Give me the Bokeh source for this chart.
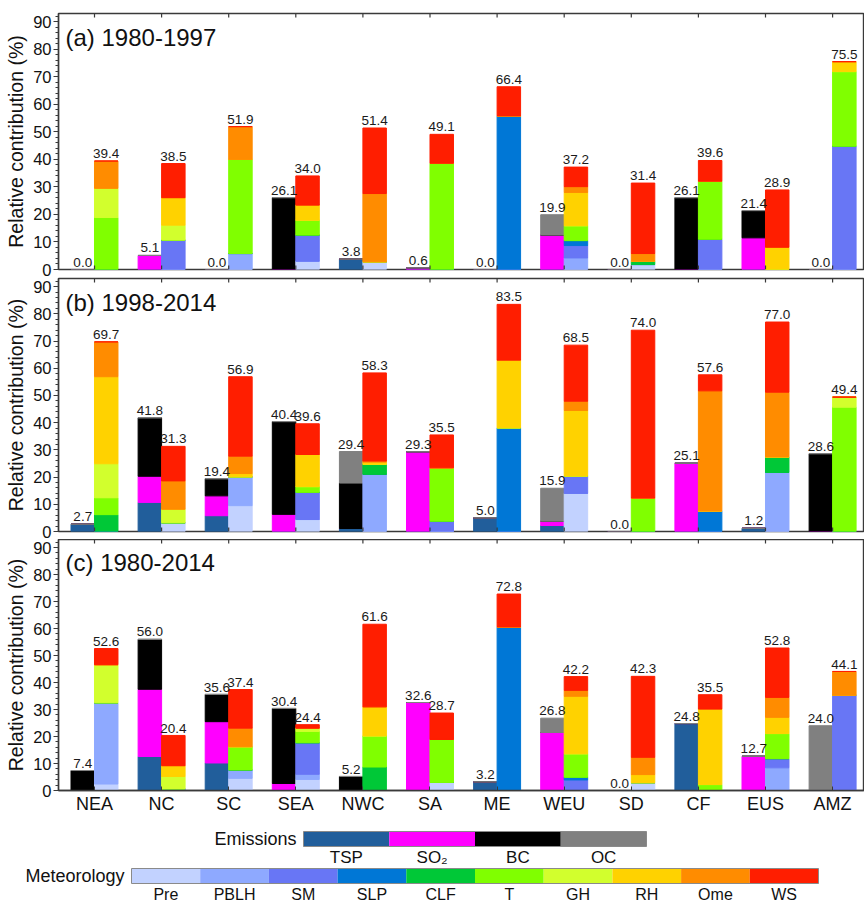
from bokeh.plotting import figure
from bokeh.models import ColumnDataSource, Range1d, FixedTicker, Label
from bokeh.layouts import column
from bokeh.core.properties import value
from bokeh.embed import file_html
from bokeh.resources import INLINE

FONT = "Liberation Sans"

regions = ["NEA", "NC", "SC", "SEA", "NWC", "SA", "ME", "WEU", "SD", "CF", "EUS", "AMZ"]
emis_names = ["TSP", "SO2", "BC", "OC"]
emis_labels = ["TSP", "SO\u2082", "BC", "OC"]
emis_colors = ["#215e9b", "#ff00ff", "#000000", "#808080"]
met_names = ["Pre", "PBLH", "SM", "SLP", "CLF", "T", "GH", "RH", "Ome", "WS"]
met_colors = ["#c2d2ff", "#8ea9ff", "#6876f5", "#0077d6", "#00c837",
              "#80ff00", "#d2ff2d", "#ffd200", "#ff8c00", "#ff1e00"]
titles = ["(a) 1980-1997", "(b) 1998-2014", "(c) 1980-2014"]

# ---- (a) 1980-1997 : emissions ----
TSP_a = [0, 0, 0, 0, 3.8, 0, 0, 0, 0, 0, 0, 0]
SO2_a = [0, 5.1, 0, 0, 0, 0.6, 0, 12.5, 0, 0, 11.5, 0]
BC_a = [0, 0, 0, 26.1, 0, 0, 0, 0, 0, 26.1, 9.9, 0]
OC_a = [0, 0, 0, 0, 0, 0, 0, 7.4, 0, 0, 0, 0]
# ---- (a) 1980-1997 : meteorology ----
Pre_a = [0, 0, 0, 3.0, 2.8, 0, 0, 0, 1.8, 0, 0, 0]
PBLH_a = [0, 0, 5.8, 0, 0, 0, 0, 4.2, 0, 0, 0, 0]
SM_a = [0, 10.7, 0, 9.5, 0, 0, 0, 4.5, 0, 11.0, 0, 44.8]
SLP_a = [0, 0, 0, 0, 0, 0, 55.8, 1.8, 0, 0, 0, 0]
CLF_a = [0, 0, 0, 0, 0, 0, 0, 0, 1.2, 0, 0, 0]
T_a = [18.9, 0, 34.2, 5.4, 0, 38.6, 0, 5.4, 0, 21.1, 0, 27.1]
GH_a = [10.6, 5.4, 0, 0, 0, 0, 0, 0, 0, 0, 0, 0]
RH_a = [0, 10.0, 0, 5.5, 0, 0, 0, 12.1, 0, 0, 8.1, 3.6]
Ome_a = [9.9, 0, 11.9, 0, 24.8, 0, 0, 2.1, 2.8, 0, 0, 0]
WS_a = [0, 12.4, 0, 10.6, 23.8, 10.5, 10.6, 7.1, 25.6, 7.5, 20.8, 0]

# ---- (b) 1998-2014 : emissions ----
TSP_b = [2.7, 10.7, 5.8, 0, 1.1, 0, 5.0, 2.2, 0, 0, 1.2, 0]
SO2_b = [0, 9.6, 7.3, 6.3, 0, 29.3, 0, 1.6, 0, 25.1, 0, 0]
BC_b = [0, 21.5, 6.3, 34.1, 16.7, 0, 0, 0, 0, 0, 0, 28.6]
OC_b = [0, 0, 0, 0, 11.6, 0, 0, 12.1, 0, 0, 0, 0]
# ---- (b) 1998-2014 : meteorology ----
Pre_b = [0, 3.2, 9.5, 4.4, 0, 0, 0, 14.0, 0, 0, 0, 0]
PBLH_b = [0, 0, 10.6, 0, 21.0, 0, 0, 0, 0, 0, 21.7, 0]
SM_b = [0, 0, 0, 10.0, 0, 3.8, 0, 6.4, 0, 0, 0, 0]
SLP_b = [0, 0, 0, 0, 0, 0, 38.1, 0, 0, 7.5, 0, 0]
CLF_b = [6.2, 0, 0, 0, 3.7, 0, 0, 0, 0, 0, 5.7, 0]
T_b = [6.2, 0, 0, 2.1, 0, 19.6, 0, 0, 12.3, 0, 0, 45.7]
GH_b = [12.5, 5.0, 0, 0, 0, 0, 0, 0, 0, 0, 0, 3.7]
RH_b = [32.0, 0, 1.2, 11.8, 0.8, 0, 24.9, 24.1, 0, 0, 0, 0]
Ome_b = [12.8, 10.4, 6.4, 0, 0.4, 0, 0, 3.4, 0, 44.2, 23.8, 0]
WS_b = [0, 12.7, 29.2, 11.3, 32.4, 12.1, 20.5, 20.6, 61.7, 5.9, 25.8, 0]

# ---- (c) 1980-2014 : emissions ----
TSP_c = [0, 12.6, 10.2, 0, 0, 0, 3.2, 0, 0, 24.8, 0, 0]
SO2_c = [0, 24.9, 15.3, 2.6, 0, 32.6, 0, 21.5, 0, 0, 12.7, 0]
BC_c = [7.4, 18.5, 10.1, 27.8, 5.2, 0, 0, 0, 0, 0, 0, 0]
OC_c = [0, 0, 0, 0, 0, 0, 0, 5.3, 0, 0, 0, 24.0]
# ---- (c) 1980-2014 : meteorology ----
Pre_c = [2.4, 0, 4.5, 4.1, 0, 3.0, 0, 0, 2.9, 0, 0, 0]
PBLH_c = [30.1, 0, 3.1, 1.9, 0, 0, 0, 0, 0, 0, 8.4, 0]
SM_c = [0, 0.6, 0, 11.7, 0, 0, 0, 3.9, 0, 0, 3.4, 35.3]
SLP_c = [0, 0, 0, 0, 0, 0, 60.6, 1.0, 0, 0, 0, 0]
CLF_c = [0, 0, 0, 0, 8.7, 0, 0, 0, 0, 0, 0, 0]
T_c = [0, 0, 8.6, 4.2, 11.5, 15.9, 0, 8.7, 0, 2.2, 9.3, 0]
GH_c = [14.1, 4.6, 0, 1.2, 0, 0, 0, 0, 0, 0, 0, 0]
RH_c = [0, 4.0, 0, 0, 10.8, 0, 0, 21.3, 3.0, 28.0, 6.0, 0]
Ome_c = [0, 0, 6.9, 0, 0, 0, 0, 2.2, 6.4, 0, 7.4, 8.8]
WS_c = [6.0, 11.2, 14.3, 1.3, 30.6, 9.8, 12.2, 5.1, 30.0, 5.3, 18.3, 0]

emis_sets = [
    [TSP_a, SO2_a, BC_a, OC_a],
    [TSP_b, SO2_b, BC_b, OC_b],
    [TSP_c, SO2_c, BC_c, OC_c],
]
met_sets = [
    [Pre_a, PBLH_a, SM_a, SLP_a, CLF_a, T_a, GH_a, RH_a, Ome_a, WS_a],
    [Pre_b, PBLH_b, SM_b, SLP_b, CLF_b, T_b, GH_b, RH_b, Ome_b, WS_b],
    [Pre_c, PBLH_c, SM_c, SLP_c, CLF_c, T_c, GH_c, RH_c, Ome_c, WS_c],
]

W = 864
LEFT = 58
X0 = 0.4635
X1 = X0 + (W - LEFT) / 67.1
YMAX = 93
BW = 0.35
AX_COL = "#3a3a3a"
xs = list(range(1, len(regions) + 1))


def make_panel(k, height, top, bottom, show_labels):
    frame_h = height - top - bottom
    ppu = frame_h / YMAX  # pixels per unit
    p = figure(width=W, height=height, x_range=Range1d(X0, X1), y_range=Range1d(0, YMAX),
               output_backend="svg", toolbar_location=None,
               min_border_left=LEFT, min_border_right=0,
               min_border_top=top, min_border_bottom=bottom)
    p.xgrid.visible = False
    p.ygrid.visible = False
    p.outline_line_color = AX_COL
    p.outline_line_width = 1.4
    p.background_fill_color = "white"
    p.border_fill_color = "white"

    ex = [x - BW / 2 for x in xs]
    mx = [x + BW / 2 for x in xs]

    ed = {"x": ex}
    for n, v in zip(emis_names, emis_sets[k]):
        ed[n] = v
    md = {"x": mx}
    for n, v in zip(met_names, met_sets[k]):
        md[n] = v
    p.vbar_stack(emis_names, x="x", width=BW, color=emis_colors,
                 source=ColumnDataSource(ed))
    p.vbar_stack(met_names, x="x", width=BW, color=met_colors,
                 source=ColumnDataSource(md))

    # inner tick marks along top (and bottom for unlabeled panels)
    tl = 4.0 / ppu
    p.segment(x0=xs, y0=[YMAX] * len(xs), x1=xs, y1=[YMAX - tl] * len(xs),
              line_color=AX_COL, line_width=1.2)
    if not show_labels:
        p.segment(x0=xs, y0=[0] * len(xs), x1=xs, y1=[tl] * len(xs),
                  line_color=AX_COL, line_width=1.2)

    tot_e = [round(sum(t), 1) for t in zip(*emis_sets[k])]
    tot_m = [round(sum(t), 1) for t in zip(*met_sets[k])]
    lift = 7.5 / ppu
    for xx, tt in ((ex, tot_e), (mx, tot_m)):
        p.text(x=xx, y=[t + lift for t in tt], text=[f"{t:.1f}" for t in tt],
               text_align="center", text_baseline="middle",
               text_font=value(FONT), text_font_size=value("13.5px"),
               text_color="#1a1a1a")

    p.add_layout(Label(x=0.568, y=YMAX - 23.5 / ppu, text=titles[k], text_font=FONT,
                       text_font_size="24px", text_color="#111111",
                       text_baseline="middle", text_align="left"))

    # y axis
    ya = p.yaxis[0]
    ya.ticker = FixedTicker(ticks=list(range(0, 91, 10)),
                            minor_ticks=list(range(0, 93, 2)))
    ya.axis_label = "Relative contribution (%)"
    ya.axis_label_text_font = FONT
    ya.axis_label_text_font_size = "19.5px"
    ya.axis_label_text_font_style = "normal"
    ya.axis_label_text_color = "#111111"
    ya.axis_label_standoff = 3
    ya.major_label_text_font = FONT
    ya.major_label_text_font_size = "16.5px"
    ya.major_label_text_color = "#111111"
    ya.major_label_standoff = 2
    ya.major_tick_in = 0
    ya.major_tick_out = 5
    ya.minor_tick_in = 0
    ya.minor_tick_out = 3
    ya.axis_line_color = AX_COL
    ya.axis_line_width = 1.4
    ya.major_tick_line_color = AX_COL
    ya.minor_tick_line_color = AX_COL

    xa = p.xaxis[0]
    if show_labels:
        xa.ticker = FixedTicker(ticks=xs, minor_ticks=[])
        xa.major_label_overrides = {x: r for x, r in zip(xs, regions)}
        xa.major_tick_in = 4
        xa.major_tick_out = 0
        xa.minor_tick_in = 0
        xa.minor_tick_out = 0
        xa.axis_line_color = AX_COL
        xa.axis_line_width = 1.4
        xa.major_tick_line_color = AX_COL
        xa.major_label_text_font = FONT
        xa.major_label_text_font_size = "18px"
        xa.major_label_text_color = "#111111"
        xa.major_label_standoff = 3
    else:
        xa.visible = False
    return p


pa = make_panel(0, 277, 13, 8, False)
pb = make_panel(1, 262, 1, 8, False)
pc = make_panel(2, 277, 0, 23, True)

# ---- legend strip (pixel coordinates, y downwards) ----
LH = 85
lg = figure(width=W, height=LH, x_range=Range1d(0, W), y_range=Range1d(LH, 0),
            output_backend="svg", toolbar_location=None, x_axis_type=None,
            y_axis_type=None, min_border=0, min_border_left=0, min_border_right=0,
            min_border_top=0, min_border_bottom=0)
lg.outline_line_color = None
lg.xgrid.visible = False
lg.ygrid.visible = False


def colorbar(labels, colors, x0, x1, y0, y1, title, lab_y, lab_size):
    n = len(colors)
    w = (x1 - x0) / n
    lefts = [x0 + i * w for i in range(n)]
    rights = [x0 + (i + 1) * w for i in range(n)]
    lg.quad(left=lefts, right=rights, top=[y0] * n, bottom=[y1] * n,
            fill_color=colors, line_color=None)
    lg.quad(left=[x0], right=[x1], top=[y0], bottom=[y1], fill_color=None,
            line_color="#8a8a8a", line_width=1)
    lg.text(x=[(l + r) / 2 for l, r in zip(lefts, rights)], y=[lab_y] * n,
            text=labels, text_align="center", text_baseline="middle",
            text_font=value(FONT), text_font_size=value(lab_size),
            text_color="#111111")
    lg.text(x=[x0 - 7], y=[(y0 + y1) / 2], text=[title], text_align="right",
            text_baseline="middle", text_font=value(FONT),
            text_font_size=value("18px"), text_color="#111111")


colorbar(emis_labels, emis_colors, 303, 646, 15, 30, "Emissions", 40.7, "17px")
colorbar(met_names, met_colors, 131, 818, 52, 67, "Meteorology", 77.5, "16px")

panels = column(pa, pb, pc, spacing=0)
layout = column(panels, lg, spacing=0)
open("out.html", "w").write(file_html(layout, INLINE))
